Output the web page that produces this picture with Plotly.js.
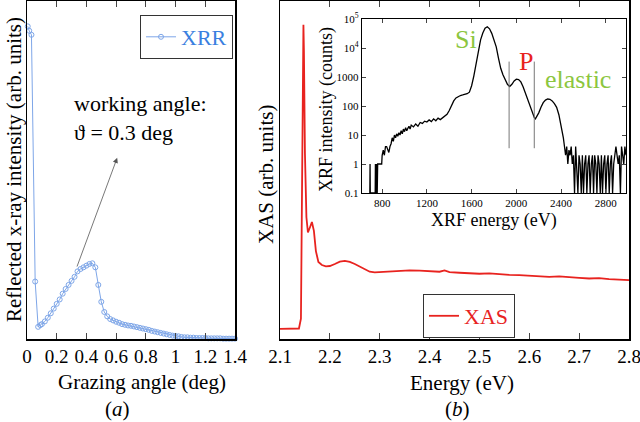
<!DOCTYPE html>
<html>
<head>
<meta charset="utf-8">
<script src="https://cdn.plot.ly/plotly-3.0.1.min.js"></script>
<style>
  body { margin: 0; background: #fff; }
  #chart { width: 640px; height: 422px; }
</style>
</head>
<body>
<div id="chart"></div>
<script>
// (a) XRR reflectivity vs grazing angle
const xrrAngle = [0.005, 0.015, 0.03, 0.055, 0.075, 0.09, 0.10, 0.12, 0.14, 0.16, 0.18, 0.20,
  0.22, 0.24, 0.26, 0.28, 0.30, 0.32, 0.34, 0.36, 0.38, 0.40, 0.42, 0.44, 0.46, 0.48, 0.50,
  0.52, 0.54, 0.56, 0.58, 0.60, 0.62, 0.64, 0.66, 0.68, 0.70, 0.72, 0.74, 0.76, 0.78, 0.80,
  0.82, 0.84, 0.86, 0.88, 0.90, 0.92, 0.94, 0.96, 0.98, 1.00, 1.02, 1.04, 1.06, 1.08, 1.10,
  1.12, 1.14, 1.16, 1.18, 1.20, 1.22, 1.24, 1.26, 1.28, 1.30, 1.32, 1.34, 1.36, 1.38, 1.40];
const xrrIntensity = [0.925, 0.912, 0.900, 0.170, 0.036, 0.041, 0.044, 0.052, 0.063, 0.076, 0.090, 0.104,
  0.117, 0.134, 0.148, 0.160, 0.172, 0.184, 0.200, 0.207, 0.212, 0.217, 0.222, 0.224, 0.212, 0.160, 0.110,
  0.080, 0.067, 0.059, 0.055, 0.051, 0.048, 0.044, 0.042, 0.040, 0.039, 0.037, 0.035, 0.033, 0.031, 0.029,
  0.027, 0.024, 0.022, 0.020, 0.018, 0.016, 0.014, 0.012, 0.010, 0.009, 0.008, 0.006, 0.005, 0.005, 0.004,
  0.004, 0.003, 0.003, 0.003, 0.003, 0.002, 0.002, 0.002, 0.002, 0.002, 0.001, 0.001, 0.001, 0.001, 0.001];
const xrrTicks = [0, 0.2, 0.4, 0.6, 0.8, 1, 1.2, 1.4];

// (b) XAS spectrum
const xasEnergy = [2.100, 2.120, 2.138, 2.142, 2.144, 2.146, 2.147, 2.148, 2.150, 2.153, 2.156, 2.160,
  2.164, 2.168, 2.172, 2.177, 2.184, 2.192, 2.200, 2.210, 2.220, 2.230, 2.240, 2.250, 2.260, 2.270,
  2.280, 2.290, 2.300, 2.320, 2.340, 2.360, 2.380, 2.400, 2.420, 2.430, 2.440, 2.460, 2.480, 2.500,
  2.520, 2.540, 2.560, 2.580, 2.600, 2.620, 2.640, 2.660, 2.680, 2.700, 2.720, 2.740, 2.760, 2.780, 2.800];
const xasIntensity = [0.030, 0.030, 0.031, 0.060, 0.350, 0.800, 0.930, 0.850, 0.550, 0.360, 0.315, 0.330,
  0.346, 0.320, 0.260, 0.228, 0.219, 0.215, 0.216, 0.222, 0.229, 0.231, 0.228, 0.222, 0.214, 0.206,
  0.199, 0.197, 0.198, 0.201, 0.203, 0.203, 0.202, 0.201, 0.199, 0.203, 0.198, 0.196, 0.194, 0.193,
  0.194, 0.191, 0.190, 0.189, 0.187, 0.186, 0.184, 0.185, 0.182, 0.181, 0.179, 0.180, 0.177, 0.176, 0.174];
const xasTicks = [2.1, 2.2, 2.3, 2.4, 2.5, 2.6, 2.7, 2.8];

// inset: XRF spectrum (counts, log scale)
const xrfEnergy = [690, 692, 694, 738, 740, 744, 750, 756, 760, 780, 796, 800, 810, 820, 830, 840, 850, 860,
  870, 880, 890, 900, 910, 920, 930, 940, 950, 960, 970, 980, 990, 1000, 1010, 1020, 1030, 1040, 1050,
  1060, 1080, 1100, 1120, 1140, 1160, 1180, 1200, 1220, 1240, 1260, 1280, 1300, 1320, 1340, 1360, 1380,
  1400, 1420, 1440, 1460, 1480, 1500, 1520, 1540, 1560, 1580, 1600, 1620, 1640, 1660, 1680, 1700, 1720,
  1740, 1760, 1780, 1800, 1820, 1840, 1860, 1880, 1900, 1920, 1940, 1960, 1980, 2000, 2020, 2040, 2060,
  2080, 2100, 2120, 2140, 2160, 2170, 2180, 2200, 2220, 2240, 2260, 2280, 2300, 2320, 2340, 2360, 2380,
  2400, 2420, 2430, 2440, 2450, 2460, 2470, 2480, 2490, 2500, 2510, 2520, 2530, 2540, 2550, 2560, 2570,
  2580, 2590, 2600, 2610, 2620, 2630, 2640, 2650, 2660, 2670, 2680, 2690, 2700, 2710, 2720, 2730, 2740,
  2750, 2760, 2770, 2780, 2790, 2800, 2810, 2820, 2830, 2840, 2850, 2860, 2870, 2880, 2890, 2900, 2910,
  2920, 2930, 2940, 2950, 2960, 2970, 2980];
const xrfCounts = [0.1, 1, 0.1, 0.1, 1, 0.1, 1, 0.1, 1, 1, 1, 2, 3, 2, 4, 4, 3, 2.5,
  4, 5, 8, 6, 10, 8, 11, 9, 12, 10, 14, 11, 16, 13, 18, 14, 17, 20, 16,
  22, 19, 24, 20, 27, 25, 30, 28, 33, 29, 36, 31, 38, 34, 40, 45, 52,
  70, 110, 150, 190, 215, 230, 240, 250, 265, 300, 500, 1100, 3000, 8000, 19000, 33000, 48000,
  54000, 46000, 32000, 20000, 11000, 4500, 2000, 1200, 800, 560, 470, 560, 730, 840, 820, 680, 460,
  280, 160, 96, 60, 40, 36, 42, 58, 90, 130, 160, 174, 170, 150, 120, 90, 50,
  22, 8, 4, 2, 4, 1, 3, 2, 4, 1, 2, 0.1, 4, 1, 0.1, 2, 1,
  0.1, 2, 0.1, 1, 2, 0.1, 1, 2, 0.1, 1, 2, 0.1, 2, 1, 0.1, 2, 1,
  0.1, 2, 0.1, 1, 2, 0.1, 1, 2, 0.1, 1, 2, 0.1, 1, 2, 4, 2, 1,
  2, 0.1, 4, 2, 1, 4, 2];
const xrfTickVals = [0.1, 1, 10, 100, 1000, 1e4, 1e5];
const xrfTickText = ['0.1', '1', '10', '100', '1000', '10<sup>4</sup>', '10<sup>5</sup>'];

// window edges around the P line
const pWindowE = [1935, 2160];
const pWindowCounts = [3.5, 3400];

const serif = 'Liberation Serif, Times New Roman, serif';
const xrrBlue = '#7ea6e8';
const xasRed = '#e8231f';
const lineGreen = '#8cc63f';

const traces = [
  {
    x: xrrAngle, y: xrrIntensity, xaxis: 'x', yaxis: 'y',
    type: 'scatter', mode: 'lines+markers', name: 'XRR',
    line: { color: xrrBlue, width: 1 },
    marker: { symbol: 'circle-open', size: 5, color: xrrBlue, line: { width: 1 } },
    cliponaxis: false, legend: 'legend'
  },
  {
    x: xasEnergy, y: xasIntensity, xaxis: 'x2', yaxis: 'y2',
    type: 'scatter', mode: 'lines', name: 'XAS',
    line: { color: xasRed, width: 1.8 }, legend: 'legend2'
  },
  {
    x: xrfEnergy, y: xrfCounts, xaxis: 'x3', yaxis: 'y3',
    type: 'scatter', mode: 'lines', showlegend: false,
    line: { color: '#000', width: 1.3 }
  }
];

pWindowE.forEach(e => {
  traces.push({
    x: [e, e], y: pWindowCounts, xaxis: 'x3', yaxis: 'y3',
    type: 'scatter', mode: 'lines', showlegend: false,
    line: { color: '#777', width: 1 }
  });
});

const frame = { showline: true, linecolor: '#000', linewidth: 1.5, showgrid: false, zeroline: false };
const yDom = [1 - 339 / 422, 1 - 1 / 422];

// text placed in page pixels
function label(text, px, py, size, extra) {
  return Object.assign({
    xref: 'paper', yref: 'paper', x: px / 640, y: 1 - py / 422,
    xanchor: 'center', yanchor: 'middle', showarrow: false,
    text: text, font: { size: size }
  }, extra || {});
}

const layout = {
  width: 640, height: 422,
  margin: { l: 0, r: 0, t: 0, b: 0 },
  paper_bgcolor: '#fff', plot_bgcolor: '#fff',
  font: { family: serif, color: '#000', size: 19 },
  showlegend: true,
  xaxis: Object.assign({}, frame, {
    domain: [27 / 640, 235 / 640], anchor: 'y', range: [0, 1.4],
    tickmode: 'array', tickvals: xrrTicks, ticktext: xrrTicks.map(String),
    ticks: 'inside', ticklen: 6, mirror: 'ticks', tickfont: { size: 19 },
    ticklabeloverflow: 'allow'
  }),
  yaxis: Object.assign({}, frame, {
    domain: yDom, anchor: 'x', range: [0, 1], mirror: true,
    ticks: '', showticklabels: false
  }),
  xaxis2: Object.assign({}, frame, {
    domain: [280 / 640, 629 / 640], anchor: 'y2', range: [2.1, 2.8],
    tickmode: 'array', tickvals: xasTicks, ticktext: xasTicks.map(v => v.toFixed(1)),
    ticks: 'inside', ticklen: 6, mirror: 'ticks', tickfont: { size: 19 },
    ticklabeloverflow: 'allow'
  }),
  yaxis2: Object.assign({}, frame, {
    domain: yDom, anchor: 'x2', range: [0, 1], mirror: true,
    ticks: '', showticklabels: false
  }),
  xaxis3: Object.assign({}, frame, {
    domain: [362 / 640, 626 / 640], anchor: 'y3', range: [620, 2980],
    tick0: 0, dtick: 400, ticks: 'inside', ticklen: 4, mirror: 'ticks', linewidth: 1.2,
    tickfont: { size: 11 }
  }),
  yaxis3: Object.assign({}, frame, {
    domain: [1 - 193 / 422, 1 - 19 / 422], anchor: 'x3', type: 'log', range: [-1, 5],
    tickmode: 'array', tickvals: xrfTickVals, ticktext: xrfTickText,
    ticks: 'inside', ticklen: 4, mirror: 'ticks', linewidth: 1.2,
    tickfont: { size: 11 }
  }),
  legend: {
    x: 140 / 640, y: 1 - 15 / 422, xanchor: 'left', yanchor: 'top',
    bgcolor: '#fff', bordercolor: '#333', borderwidth: 1,
    font: { family: serif, size: 22, color: '#3a7fe0' }
  },
  legend2: {
    x: 423 / 640, y: 1 - 294 / 422, xanchor: 'left', yanchor: 'top',
    bgcolor: '#fff', bordercolor: '#333', borderwidth: 1,
    font: { family: serif, size: 22, color: xasRed }
  },
  annotations: [
    label('working angle:<br>ϑ = 0.3 deg', 72, 118, 22, { xanchor: 'left', align: 'left' }),
    {
      xref: 'x', yref: 'y', x: 0.607, y: 0.536, axref: 'x', ayref: 'y', ax: 0.333, ay: 0.21,
      text: '', showarrow: true, arrowhead: 2, arrowsize: 1.3, arrowwidth: 0.8, arrowcolor: '#555'
    },
    // axis titles
    label('Grazing angle (deg)', 142, 382, 21),
    label('Energy (eV)', 462, 383, 21),
    label('Reflected x-ray intensity (arb. units)', 14, 170, 21, { textangle: -90 }),
    label('XAS (arb. units)', 266, 175, 21, { textangle: -90 }),
    label('XRF intensity (counts)', 326, 110, 18, { textangle: -90 }),
    label('XRF energy (eV)', 494, 220, 18),
    // panel tags
    label('(<i>a</i>)', 117, 409, 21),
    label('(<i>b</i>)', 457, 409, 21),
    // XRF line labels
    label('Si', 466, 40, 26, { font: { size: 26, color: lineGreen } }),
    label('P', 526, 62, 26, { font: { size: 26, color: xasRed } }),
    label('elastic', 578, 79, 26, { font: { size: 26, color: lineGreen } })
  ]
};

Plotly.newPlot('chart', traces, layout, { displayModeBar: false, staticPlot: true });
</script>
</body>
</html>
